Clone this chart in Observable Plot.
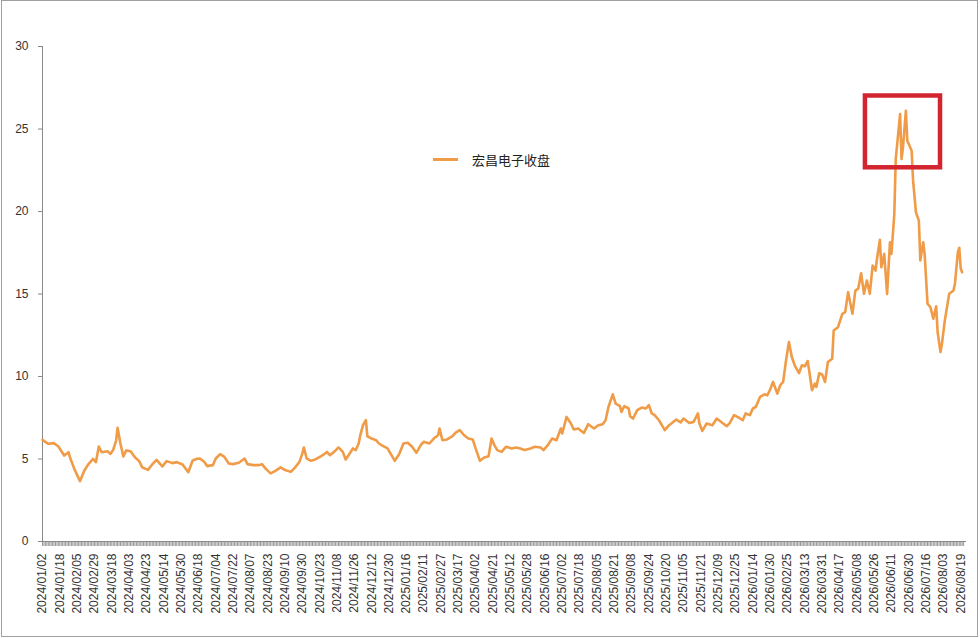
<!DOCTYPE html>
<html>
<head>
<meta charset="utf-8">
<script src="https://cdn.jsdelivr.net/npm/d3@7"></script>
<script src="https://cdn.jsdelivr.net/npm/@observablehq/plot@0.6"></script>
<style>
  body { margin: 0; background: #fff; }
  #wrap { position: relative; width: 980px; height: 638px; }
  #frame { position: absolute; left: 1px; top: 0px; width: 975px; height: 635px; border: 1px solid #a0a0a0; pointer-events: none; }
  #legend { position: absolute; left: 433px; top: 150px; height: 18px; display: flex; align-items: center;
            font-family: "Noto Sans CJK SC", "Liberation Sans", sans-serif; font-size: 13px; color: #222; }
  #legend .swatch { display: inline-block; width: 25px; height: 3px; background: #ef9b47; margin-right: 14px; }
</style>
</head>
<body>
<div id="wrap">
  <div id="chart"></div>
  <div id="legend"><span class="swatch"></span>宏昌电子收盘</div>
  <div id="frame"></div>
</div>
<script>
// category labels shown every 12 trading days
const tickLabels = [
  "2024/01/02","2024/01/18","2024/02/05","2024/02/29","2024/03/18","2024/04/03","2024/04/23",
  "2024/05/14","2024/05/30","2024/06/18","2024/07/04","2024/07/22","2024/08/07","2024/08/23",
  "2024/09/10","2024/09/30","2024/10/23","2024/11/08","2024/11/26","2024/12/12","2024/12/30",
  "2025/01/16","2025/02/11","2025/02/27","2025/03/17","2025/04/02","2025/04/21","2025/05/12",
  "2025/05/28","2025/06/16","2025/07/02","2025/07/18","2025/08/05","2025/08/21","2025/09/08",
  "2025/09/24","2025/10/20","2025/11/05","2025/11/21","2025/12/09","2025/12/25","2026/01/14",
  "2026/01/30","2026/02/25","2026/03/13","2026/03/31","2026/04/17","2026/05/08","2026/05/26",
  "2026/06/11","2026/06/30","2026/07/16","2026/08/03","2026/08/19"
];
const labelStep = 12;

// trading day number (0 = 2024/01/02) and closing price
const day = [
  0,4,8,11,15,18,19,22,26,29,32,35,37,39,41,45,47,49,51,52,54,56,58,61,64,67,69,73,76,79,
  83,86,90,93,97,101,104,107,109,112,114,118,120,123,126,129,132,136,140,142,146,150,152,155,158,161,165,168,172,175,
  178,180,181,183,186,189,193,195,197,199,202,205,208,210,212,215,217,219,220,222,224,225,228,231,233,236,239,241,244,247,
  250,253,256,259,262,264,268,271,274,275,277,280,284,286,289,292,295,298,300,303,306,309,311,313,315,318,321,325,328,331,
  334,338,341,345,347,350,353,356,359,360,363,366,368,371,375,378,382,385,388,390,392,395,397,400,401,403,406,407,409,412,
  415,418,420,422,424,427,429,431,434,436,439,442,444,448,451,454,455,457,460,464,467,471,474,476,479,482,485,487,490,492,
  494,497,500,502,504,506,509,511,513,515,517,519,521,524,526,528,530,531,533,535,536,538,540,542,544,547,548,551,554,556,
  558,561,563,565,567,569,571,573,575,577,578,580,581,583,585,587,588,590,591,594,595,596,598,599,602,603,605,607,608,610,
  611,613,615,617,619,620,622,623,625,628,631,632,634,635,636,637
];
const close = [
  6.16,5.92,5.96,5.76,5.21,5.41,5.11,4.40,3.66,4.30,4.71,5.01,4.81,5.76,5.41,5.47,5.31,5.56,6.12,6.89,5.92,5.15,5.52,5.47,5.11,4.87,4.50,4.34,4.67,4.95,
  4.55,4.87,4.75,4.81,4.67,4.20,4.91,5.01,5.03,4.83,4.57,4.63,5.03,5.29,5.13,4.73,4.69,4.77,5.03,4.69,4.63,4.63,4.69,4.37,4.13,4.27,4.49,4.33,4.22,4.49,
  4.83,5.34,5.70,5.03,4.89,4.97,5.17,5.29,5.43,5.23,5.43,5.70,5.43,4.97,5.23,5.64,5.54,5.94,6.40,7.05,7.35,6.38,6.24,6.14,5.94,5.78,5.64,5.34,4.89,5.29,
  5.94,5.98,5.74,5.38,5.84,6.04,5.94,6.24,6.44,6.85,6.14,6.18,6.38,6.58,6.75,6.44,6.24,6.18,5.64,4.89,5.09,5.17,6.24,5.84,5.54,5.43,5.74,5.64,5.70,5.64,
  5.54,5.64,5.74,5.70,5.54,5.84,6.24,6.14,6.85,6.55,7.55,7.15,6.79,6.85,6.58,7.11,6.85,7.05,7.11,7.35,8.15,8.92,8.36,8.20,7.85,8.20,8.06,7.59,7.45,7.96,
  8.12,8.06,8.26,7.76,7.66,7.35,7.05,6.75,7.05,7.18,7.39,7.22,7.45,7.18,7.25,7.76,7.15,6.70,7.15,7.05,7.45,7.18,6.99,7.18,7.66,7.52,7.35,7.76,7.66,8.06,
  8.15,8.76,8.92,8.86,9.21,9.67,8.96,9.47,9.67,10.98,12.09,11.18,10.68,10.21,10.68,10.62,10.94,10.38,9.17,9.57,9.37,10.20,10.13,9.67,10.88,11.08,12.79,12.99,13.80,13.90,
  15.11,13.80,15.21,15.32,16.26,15.01,15.82,15.01,16.73,16.42,17.13,18.28,16.62,17.43,15.01,18.14,17.43,19.85,23.18,25.90,23.18,23.88,26.10,24.29,23.68,21.87,19.95,19.45,17.03,18.14,
  17.43,14.41,14.21,13.50,14.25,12.69,11.48,11.99,13.40,15.01,15.21,15.62,17.53,17.80,16.53,16.32
];
const yTicks = [0, 5, 10, 15, 20, 25, 30];

// highlighted peak window (trading days, price)
const boxDays = [570, 622];
const boxPrice = [22.65, 27.0];

const rows = day.map((d, i) => ({day: d, close: close[i]}));
const lastDay = 638;

const chart = Plot.plot({
  width: 980,
  height: 638,
  marginLeft: 42,
  marginRight: 14,
  marginTop: 46,
  marginBottom: 97,
  x: {domain: [0, 640]},
  y: {domain: [0, 30]},
  style: {fontFamily: "'Liberation Sans', Arial, sans-serif", fontSize: "12px", color: "#333", background: "#fff"},
  marks: [
    Plot.axisY({ticks: yTicks, tickSize: 4, tickPadding: 10, label: null, stroke: "#888"}),
    Plot.ruleX([0], {stroke: "#8a8a8a"}),
    Plot.axisX({ticks: d3.range(0, lastDay + 1), tickSize: 5, tickFormat: () => "", label: null, stroke: "#999"}),
    Plot.axisX({
      ticks: d3.range(0, tickLabels.length * labelStep, labelStep),
      tickSize: 0, tickPadding: 12, tickRotate: -90,
      tickFormat: i => tickLabels[i / labelStep], label: null
    }),
    Plot.ruleY([0], {stroke: "#8a8a8a"}),
    Plot.line(rows, {x: "day", y: "close", stroke: "#ef9b47", strokeWidth: 2.6}),
    Plot.rect([{x1: boxDays[0], x2: boxDays[1], y1: boxPrice[0], y2: boxPrice[1]}],
      {x1: "x1", x2: "x2", y1: "y1", y2: "y2", fill: "none", stroke: "#d2252f", strokeWidth: 4.5})
  ]
});

d3.select('#chart').append(() => chart);
</script>
</body>
</html>
